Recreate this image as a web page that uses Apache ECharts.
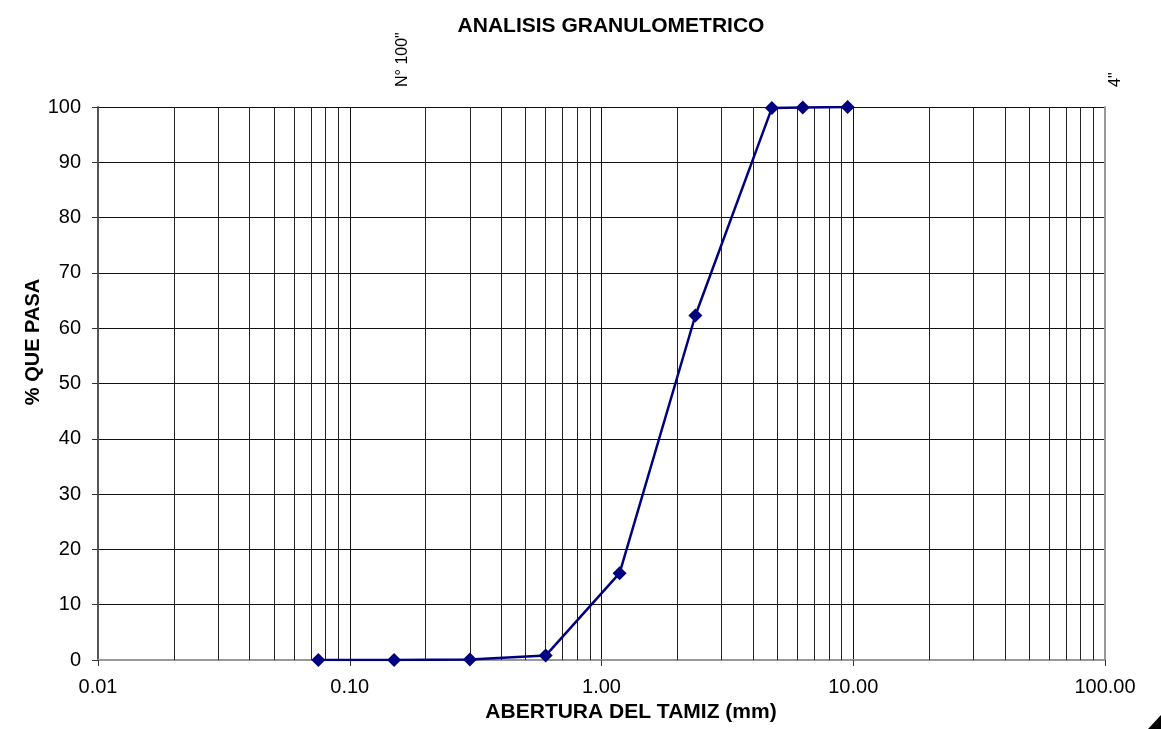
<!DOCTYPE html>
<html>
<head>
<meta charset="utf-8">
<script src="https://cdn.jsdelivr.net/npm/echarts@6/dist/echarts.min.js"></script>
<style>html,body{margin:0;padding:0;background:#fff}#c{width:1161px;height:729px}</style>
</head>
<body>
<div id="c"></div>
<script>
// Sieve openings (mm) and % passing
var aperturas = [0.075, 0.15, 0.3, 0.6, 1.18, 2.36, 4.75, 6.3, 9.5];
var pasa = [0.0, 0.0, 0.1, 0.8, 15.7, 62.3, 99.8, 99.9, 100.0];
// Minor log grid lines
var minorGrid = [0.02,0.03,0.04,0.05,0.06,0.07,0.08,0.09,
                 0.2,0.3,0.4,0.5,0.6,0.7,0.8,0.9,
                 2,3,4,5,6,7,8,9,
                 20,30,40,50,60,70,80,90];
// Top sieve labels
var topLabels = ['N° 100"', '4"'];
var topLabelValues = [0.15, 101.6];
var titleText = 'ANALISIS GRANULOMETRICO';
var xName = 'ABERTURA DEL TAMIZ (mm)';
var yName = '% QUE PASA';

var FONT = 'Liberation Sans, Arial, sans-serif';
var chart = echarts.init(document.getElementById('c'), null, {renderer: 'canvas'});
var option = {
  animation: false,
  backgroundColor: '#fff',
  title: {
    text: titleText,
    left: 606, top: 11, textAlign: 'center',
    textStyle: {fontFamily: FONT, fontSize: 21, fontWeight: 'bold', color: '#000'}
  },
  grid: {left: 98, right: 56, top: 107, bottom: 69, containLabel: false},
  xAxis: [{
    type: 'log', logBase: 10, min: 0.01, max: 100,
    name: xName, nameLocation: 'middle', nameGap: 40,
    nameTextStyle: {fontFamily: FONT, fontSize: 21, fontWeight: 'bold', color: '#000', padding: [0, 0, 0, 59]},
    axisLine: {show: true, lineStyle: {color: '#555', width: 2}},
    axisTick: {show: true, length: 6, lineStyle: {color: '#333', width: 1}},
    axisLabel: {fontFamily: FONT, fontSize: 20, color: '#000', margin: 17,
      formatter: function (v) { return Number(v).toFixed(2); }},
    splitLine: {show: true, lineStyle: {color: '#111', width: 1}}
  }, {
    type: 'log', logBase: 10, min: 0.01, max: 100, position: 'top',
    axisLine: {show: true, lineStyle: {color: '#999', width: 2}},
    axisTick: {show: false}, axisLabel: {show: false}, splitLine: {show: false}
  }],
  yAxis: [{
    type: 'value', min: 0, max: 100, interval: 10,
    axisLine: {show: true, lineStyle: {color: '#555', width: 2}},
    axisTick: {show: true, length: 6, lineStyle: {color: '#333', width: 1}},
    axisLabel: {fontFamily: FONT, fontSize: 20, color: '#000', margin: 17},
    splitLine: {show: true, lineStyle: {color: '#111', width: 1}}
  }, {
    type: 'value', min: 0, max: 100, interval: 10, position: 'right',
    axisLine: {show: true, lineStyle: {color: '#999', width: 2}},
    axisTick: {show: false}, axisLabel: {show: false}, splitLine: {show: false}
  }],
  series: [{
    type: 'line', xAxisIndex: 0, yAxisIndex: 0,
    data: [], silent: true, symbol: 'none',
    markLine: {
      silent: true, symbol: ['none', 'none'], label: {show: false},
      lineStyle: {color: '#222', width: 1, type: 'solid'},
      data: minorGrid.map(function (v) { return {xAxis: v}; })
    },
    z: 1
  }, {
    name: '% Pasa', type: 'line', xAxisIndex: 0, yAxisIndex: 0,
    data: aperturas.map(function (a, i) { return [a, pasa[i]]; }),
    symbol: 'diamond', symbolSize: 14,
    lineStyle: {color: '#000080', width: 2.5},
    itemStyle: {color: '#000080'},
    z: 5
  }]
};
chart.setOption(option);

var g = topLabels.map(function (t, i) {
  var px = chart.convertToPixel({xAxisIndex: 0}, topLabelValues[i]);
  return {
    type: 'text', x: px + 9, y: 87, rotation: Math.PI / 2,
    style: {text: t, fontFamily: FONT, fontSize: 16, fill: '#000', align: 'left', verticalAlign: 'middle'}
  };
});
g.push({
  type: 'text', x: 33, y: 342, rotation: Math.PI / 2,
  style: {text: yName, fontFamily: FONT, fontSize: 20, fontWeight: 'bold', fill: '#000', align: 'center', verticalAlign: 'middle'}
});
g.push({
  type: 'polygon',
  shape: {points: [[1161, 715], [1161, 729], [1148, 729]]},
  style: {fill: '#000'}
});
chart.setOption({graphic: g});
</script>
</body>
</html>
